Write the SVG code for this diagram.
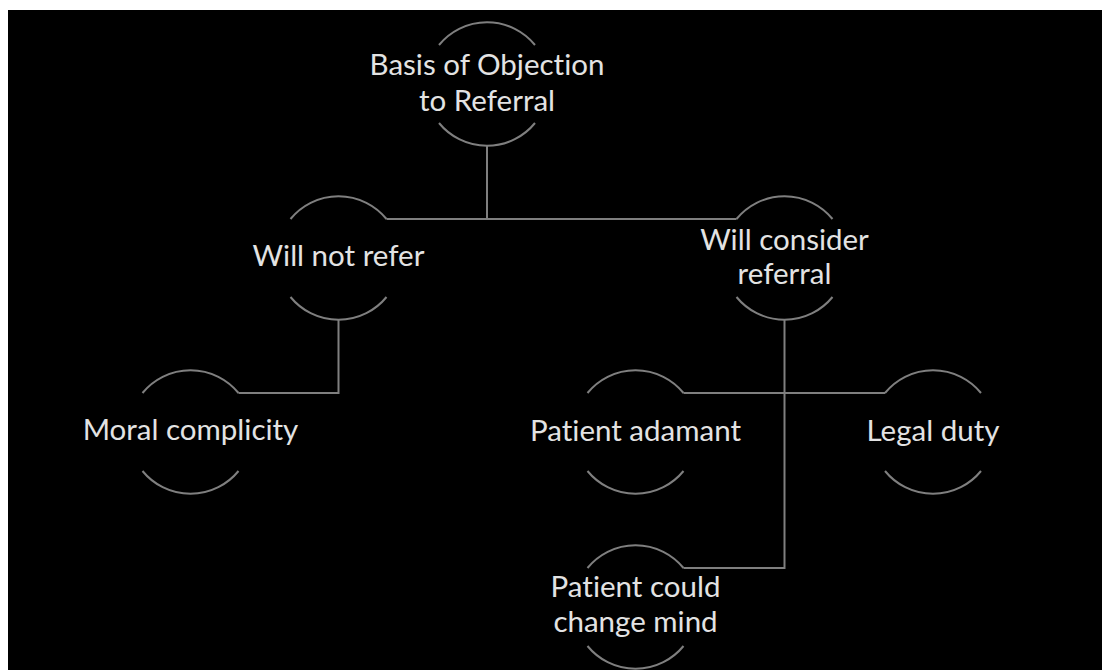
<svg xmlns="http://www.w3.org/2000/svg" width="1102" height="670" viewBox="0 0 1102 670">
  <defs>
    <style>
      .arc { fill: none; stroke: #7f7f7f; stroke-width: 2; }
      .link { fill: none; stroke: #7f7f7f; stroke-width: 2; }
      .label { fill: #e3e3e3; font-family: Lato, "Liberation Sans", sans-serif; font-size: 29.5px; text-anchor: middle; font-variant-ligatures: none; }
    </style>
    <!-- open circle: an upper and a lower arc, radius 62 -->
    <g id="ring">
      <path class="arc" d="M-48 -39 A62 62 0 0 1 48 -39"/>
      <path class="arc" d="M-48 39 A62 62 0 0 0 48 39"/>
    </g>
  </defs>

  <rect x="0" y="0" width="1102" height="670" fill="#ffffff"/>
  <rect x="8" y="10" width="1094" height="660" fill="#000000"/>

  <g id="connectors">
    <path class="link" d="M487 146 V219"/>
    <path class="link" d="M386.5 219 H736.5"/>
    <path class="link" d="M338.5 320 V393 H238.5"/>
    <path class="link" d="M784.5 320 V568 H683.5"/>
    <path class="link" d="M683.5 393 H885"/>
  </g>

  <g id="basis" transform="translate(487 84)">
    <use href="#ring"/>
    <text class="label"><tspan x="0" y="-9">Basis of Objection</tspan><tspan x="0" y="27">to Referral</tspan></text>
  </g>

  <g id="will-not-refer" transform="translate(338.5 258)">
    <use href="#ring"/>
    <text class="label" x="0" y="8">Will not refer</text>
  </g>

  <g id="will-consider" transform="translate(784.5 258)">
    <use href="#ring"/>
    <text class="label"><tspan x="0" y="-8">Will consider</tspan><tspan x="0" y="26">referral</tspan></text>
  </g>

  <g id="moral-complicity" transform="translate(190.5 432)">
    <use href="#ring"/>
    <text class="label" x="0" y="8">Moral complicity</text>
  </g>

  <g id="patient-adamant" transform="translate(635.5 432)">
    <use href="#ring"/>
    <text class="label" x="0" y="9">Patient adamant</text>
  </g>

  <g id="legal-duty" transform="translate(933 432)">
    <use href="#ring"/>
    <text class="label" x="0" y="9">Legal duty</text>
  </g>

  <g id="patient-change-mind" transform="translate(635.5 607)">
    <use href="#ring"/>
    <text class="label"><tspan x="0" y="-10">Patient could</tspan><tspan x="0" y="25">change mind</tspan></text>
  </g>
</svg>
